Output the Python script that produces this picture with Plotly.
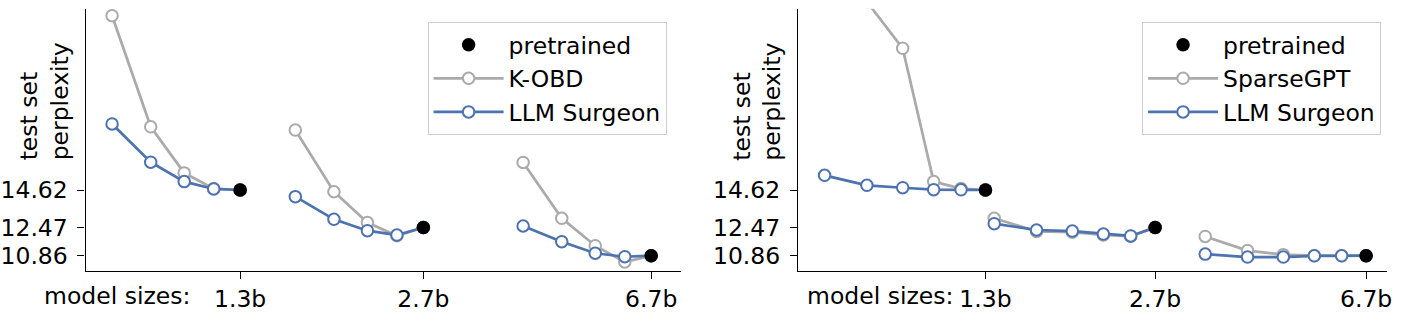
import plotly.graph_objects as go

# Model sizes (billions of parameters) and the perplexity of each dense model
model_sizes = [1.3, 2.7, 6.7]
size_labels = ["1.3b", "2.7b", "6.7b"]
pretrained_ppl = [14.62, 12.47, 10.86]
ppl_ticks = [10.86, 12.47, 14.62]

# Structured pruning: fraction of weights kept, perplexity per model size
structured_density = [0.6, 0.7, 0.8, 0.9]
kobd_ppl = [
    [24.60, 18.24, 15.60, 14.70],
    [18.05, 14.52, 12.76, 12.00],
    [16.20, 13.00, 11.43, 10.50],
]
surgeon_structured_ppl = [
    [18.40, 16.21, 15.10, 14.68],
    [14.24, 12.94, 12.29, 12.04],
    [12.56, 11.66, 11.00, 10.80],
]

# Unstructured pruning: fraction of weights kept, perplexity per model size
unstructured_density = [0.5, 0.6, 0.7, 0.8, 0.9]
sparsegpt_ppl = [
    [35.00, 25.40, 22.73, 15.10, 14.70],
    [13.00, 12.25, 12.20, 12.05, 11.97],
    [11.96, 11.15, 10.92, 10.86, 10.86],
]
surgeon_unstructured_ppl = [
    [15.46, 14.89, 14.75, 14.64, 14.63],
    [12.69, 12.33, 12.27, 12.10, 11.99],
    [10.95, 10.78, 10.78, 10.85, 10.85],
]

W, H = 1401, 321
FONT = "DejaVu Sans"
FS = 23.5
GRAY = "#aaaaaa"
BLUE = "#4c72b0"


def curve(densities, runs):
    """Remaining parameters vs perplexity, each size ending at its dense model."""
    xs, ys = [], []
    for size, base, run in zip(model_sizes, pretrained_ppl, runs):
        xs += [size * d for d in densities] + [size, None]
        ys += list(run) + [base, None]
    return xs, ys


def method_trace(densities, runs, name, color, xaxis, yaxis, legend, rank):
    xs, ys = curve(densities, runs)
    return go.Scatter(
        x=xs, y=ys, mode="lines+markers", name=name,
        line=dict(color=color, width=2.7),
        marker=dict(symbol="circle", size=11.5, color="white",
                    line=dict(color=color, width=2)),
        xaxis=xaxis, yaxis=yaxis, legend=legend, legendgroup=legend + name,
        legendrank=rank, connectgaps=False, cliponaxis=True,
    )


def pretrained_trace(xaxis, yaxis, legend):
    return go.Scatter(
        x=model_sizes, y=pretrained_ppl, mode="markers", name="pretrained",
        marker=dict(symbol="circle", size=13.5, color="black"),
        xaxis=xaxis, yaxis=yaxis, legend=legend, legendgroup=legend + "pre",
        legendrank=1,
    )


fig = go.Figure()
# left panel: structured pruning
fig.add_trace(method_trace(structured_density, kobd_ppl, "K-OBD", GRAY, "x", "y", "legend", 2))
fig.add_trace(method_trace(structured_density, surgeon_structured_ppl, "LLM Surgeon", BLUE, "x", "y", "legend", 3))
fig.add_trace(pretrained_trace("x", "y", "legend"))
# right panel: unstructured pruning
fig.add_trace(method_trace(unstructured_density, sparsegpt_ppl, "SparseGPT", GRAY, "x2", "y2", "legend2", 2))
fig.add_trace(method_trace(unstructured_density, surgeon_unstructured_ppl, "LLM Surgeon", BLUE, "x2", "y2", "legend2", 3))
fig.add_trace(pretrained_trace("x2", "y2", "legend2"))

ydom = [(H - 270.7) / H, (H - 8.7) / H]

xcommon = dict(
    type="log", tickmode="array", tickvals=model_sizes, ticktext=size_labels,
    showline=True, linecolor="black", linewidth=1.4, ticks="outside", ticklen=7,
    tickwidth=1.4, tickcolor="black", showgrid=False, zeroline=False,
    tickfont=dict(family=FONT, size=FS, color="black"), fixedrange=True,
    ticklabelstandoff=0,
)
ycommon = dict(
    range=[10, 25], domain=ydom, tickmode="array", tickvals=ppl_ticks,
    ticktext=[f"{v:.2f}" for v in ppl_ticks],
    showline=True, linecolor="black", linewidth=1.4, ticks="outside", ticklen=7,
    tickwidth=1.4, tickcolor="black", showgrid=False, zeroline=False,
    tickfont=dict(family=FONT, size=FS, color="black"), fixedrange=True,
    ticklabelstandoff=5,
)

legend_common = dict(
    xanchor="right", yanchor="top", bgcolor="rgba(255,255,255,0.85)",
    bordercolor="#cccccc", borderwidth=1, font=dict(family=FONT, size=FS, color="black"),
    tracegroupgap=0, itemwidth=70, traceorder="grouped",
)

annotations = []
for xc, xlab in [(45, 193), (760, 958)]:
    annotations.append(dict(
        x=xc / W, y=(H - 101.5) / H, xref="paper", yref="paper",
        xanchor="center", yanchor="middle",
        text="test set<br>perplexity", textangle=-90, align="left",
        showarrow=False, font=dict(family=FONT, size=FS, color="black"),
    ))
    annotations.append(dict(
        x=xlab / W, y=(H - 296) / H, xref="paper", yref="paper",
        xanchor="right", yanchor="middle", text="model sizes:",
        showarrow=False, font=dict(family=FONT, size=FS, color="black"),
    ))

fig.update_layout(
    width=W, height=H, margin=dict(l=0, r=0, t=0, b=0),
    paper_bgcolor="white", plot_bgcolor="white",
    font=dict(family=FONT, size=FS, color="black"),
    xaxis=dict(domain=[86 / W, 683 / W], range=[-0.15363, 0.87699], anchor="y", **xcommon),
    yaxis=dict(anchor="x", **ycommon),
    xaxis2=dict(domain=[801 / W, 1392 / W], range=[-0.23654, 0.86522], anchor="y2", **xcommon),
    yaxis2=dict(anchor="x2", **ycommon),
    legend=dict(x=669 / W, y=(H - 22) / H, **legend_common),
    legend2=dict(x=1386 / W, y=(H - 22) / H, **legend_common),
    annotations=annotations,
    showlegend=True,
)

fig.write_html("out.html")
